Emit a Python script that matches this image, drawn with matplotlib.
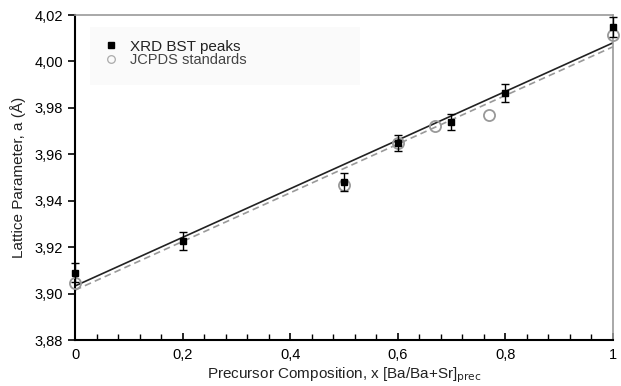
import matplotlib
matplotlib.use("Agg")
import matplotlib.pyplot as plt
from matplotlib.lines import Line2D
from matplotlib.patches import Rectangle
from matplotlib.ticker import MultipleLocator, FuncFormatter

plt.rcParams['font.family'] = ['Liberation Sans', 'DejaVu Sans']

# XRD BST peaks (black squares with error bars)
xrd_x = [0.0, 0.2, 0.5, 0.6, 0.7, 0.8, 1.0]
xrd_y = [3.909, 3.9227, 3.948, 3.9648, 3.974, 3.9864, 4.0149]
xrd_err = [0.004, 0.0038, 0.0038, 0.0035, 0.0035, 0.0038, 0.0042]

# JCPDS standards (open circles)
jc_x = [0.0, 0.5, 0.6, 0.67, 0.77, 1.0]
jc_y = [3.9046, 3.947, 3.965, 3.972, 3.977, 4.0114]

# linear fits (endpoints)
fit_x = [0.0, 1.0]
fit_xrd = [3.9033, 4.008]
fit_jc = [3.9015, 4.0063]

fig = plt.figure(figsize=(6.21, 3.86), dpi=100)
ax = fig.add_axes([0.1208, 0.119, 0.866, 0.842])

ax.plot(fit_x, fit_xrd, color='#222222', lw=1.2, zorder=2)
ax.plot(fit_x, fit_jc, color='#999999', lw=1.2, ls=(0, (4, 2.5)), zorder=2)

ax.plot(jc_x, jc_y, 'o', ms=8, mfc='none', mec='#999999', mew=1.3, zorder=3,
        clip_on=False)
eb = ax.errorbar(xrd_x, xrd_y, yerr=xrd_err, fmt='s', ms=5, color='black',
                 ecolor='black', elinewidth=1, capsize=3, capthick=1, zorder=4)
for art in eb.lines[0:1] + tuple(eb.lines[1]) + tuple(eb.lines[2]):
    art.set_clip_on(False)

ax.set_xlim(0, 1)
ax.set_ylim(3.88, 4.02)
ax.xaxis.set_major_locator(MultipleLocator(0.2))
ax.xaxis.set_minor_locator(MultipleLocator(0.04))
ax.yaxis.set_major_locator(MultipleLocator(0.02))

def xfmt(v, pos):
    if abs(v) < 1e-9:
        return '0'
    if abs(v - 1) < 1e-9:
        return '1'
    return f'{v:.1f}'.replace('.', ',')

ax.xaxis.set_major_formatter(FuncFormatter(xfmt))
ax.yaxis.set_major_formatter(FuncFormatter(lambda v, p: f'{v:.2f}'.replace('.', ',')))

ax.tick_params(axis='x', which='both', direction='in', labelsize=10.5, pad=6)
ax.tick_params(axis='x', which='major', length=5, width=1.2)
ax.tick_params(axis='x', which='minor', length=4, width=1)
ax.tick_params(axis='y', direction='out', length=5, width=1.2, labelsize=10.5)
ax.tick_params(top=False, right=False)

for s in ['left', 'bottom']:
    ax.spines[s].set_color('black')
    ax.spines[s].set_linewidth(1.5)
for s in ['top', 'right']:
    ax.spines[s].set_color('#999999')
    ax.spines[s].set_linewidth(1.2)

ax.set_xlabel('Precursor Composition, x [Ba/Ba+Sr]$_{\\mathrm{prec}}$', fontsize=11,
              color='#222222', labelpad=2)
ax.set_ylabel('Lattice Parameter, a (Å)', fontsize=11, color='#222222', labelpad=6)

# faint legend background
ax.add_patch(Rectangle((0.028, 0.785), 0.502, 0.178, transform=ax.transAxes,
                       facecolor='#fafafa', edgecolor='none', zorder=1))

handles = [Line2D([], [], ls='none', marker='s', ms=4.5, color='black'),
           Line2D([], [], ls='none', marker='o', ms=5.5, mfc='none', mec='#aaaaaa', mew=0.9)]
labels = ['XRD BST peaks', 'JCPDS standards']
leg = ax.legend(handles, labels, loc='upper left', bbox_to_anchor=(0.052, 0.924),
                fontsize=11, frameon=False, handlelength=1.0, handletextpad=0.75,
                labelspacing=-0.05, borderpad=0, borderaxespad=0)
texts = leg.get_texts()
texts[0].set_color('#222222')
texts[1].set_color('#444444')
texts[1].set_fontsize(10.5)

fig.savefig('out.png', dpi=100)
